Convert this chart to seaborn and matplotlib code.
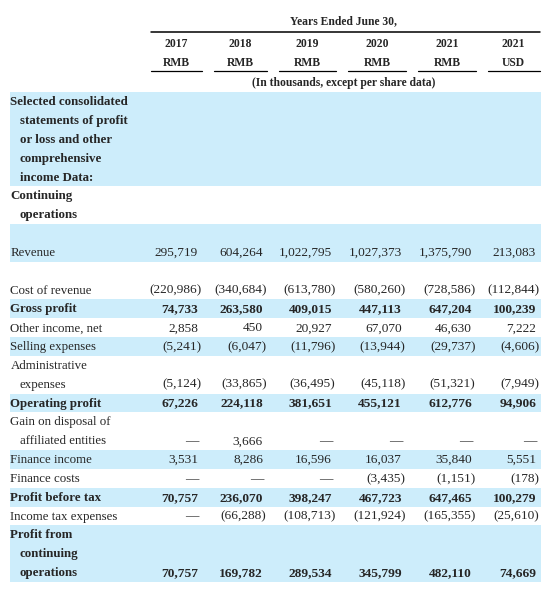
import numpy as np
import pandas as pd
import matplotlib
matplotlib.use('Agg')
import matplotlib.pyplot as plt
import seaborn as sns

# Table data
years = ['2017', '2018', '2019', '2020', '2021', '2021']
currencies = ['RMB', 'RMB', 'RMB', 'RMB', 'RMB', 'USD']

revenue = [295719, 604264, 1022795, 1027373, 1375790, 213083]
cost_of_revenue = [-220986, -340684, -613780, -580260, -728586, -112844]
gross_profit = [74733, 263580, 409015, 447113, 647204, 100239]
other_income = [2858, 450, 20927, 67070, 46630, 7222]
selling_exp = [-5241, -6047, -11796, -13944, -29737, -4606]
admin_exp = [-5124, -33865, -36495, -45118, -51321, -7949]
operating_profit = [67226, 224118, 381651, 455121, 612776, 94906]
gain_disposal = [None, 3666, None, None, None, None]
finance_income = [3531, 8286, 16596, 16037, 35840, 5551]
finance_costs = [None, None, None, -3435, -1151, -178]
profit_before_tax = [70757, 236070, 398247, 467723, 647465, 100279]
income_tax = [None, -66288, -108713, -121924, -165355, -25610]
profit_cont_ops = [70757, 169782, 289534, 345799, 482110, 74669]

# label lines, values, bold, shaded
rows = [
    (['Selected consolidated', 'statements of profit', 'or loss and other',
      'comprehensive', 'income Data:'], None, True, True),
    (['Continuing', 'operations'], None, True, False),
    (['', 'Revenue'], revenue, False, True),
    ([''], None, False, False),
    (['Cost of revenue'], cost_of_revenue, False, False),
    (['Gross profit'], gross_profit, True, True),
    (['Other income, net'], other_income, False, False),
    (['Selling expenses'], selling_exp, False, True),
    (['Administrative', 'expenses'], admin_exp, False, False),
    (['Operating profit'], operating_profit, True, True),
    (['Gain on disposal of', 'affiliated entities'], gain_disposal, False, False),
    (['Finance income'], finance_income, False, True),
    (['Finance costs'], finance_costs, False, False),
    (['Profit before tax'], profit_before_tax, True, True),
    (['Income tax expenses'], income_tax, False, False),
    (['Profit from', 'continuing', 'operations'], profit_cont_ops, True, True),
]


def fmt(v):
    if v is None:
        return '\u2014'
    if v < 0:
        return '({:,})'.format(-v)
    return '{:,}'.format(v)


sns.set_theme(style='white')
plt.rcParams['font.family'] = ['Liberation Serif', 'DejaVu Serif']

fig = plt.figure(figsize=(5.45, 5.89), dpi=100)
ax = fig.add_axes([0, 0, 1, 1])
ax.set_xlim(0, 545)
ax.set_ylim(589, 0)
ax.axis('off')

shade = '#cdedfb'
fs = 9.3
nfs = 9.6
hfs = 8.4
col_right = [198, 263, 332, 402, 472, 536]
col_left_ul = [150.5, 214, 279, 348, 418, 488]
col_right_ul = [201.5, 267, 336, 406, 476, 539.5]

# header
ax.text(344, 24.5, 'Years Ended June 30,', ha='center', va='baseline', fontsize=hfs, fontweight='bold')
ax.plot([150.5, 539.5], [32, 32], color='black', lw=1.1)
for i in range(6):
    cx = (col_left_ul[i] + col_right_ul[i]) / 2
    ax.text(cx, 47, years[i], ha='center', va='baseline', fontsize=hfs, fontweight='bold')
    ax.text(cx, 66, currencies[i], ha='center', va='baseline', fontsize=hfs, fontweight='bold')
    ax.plot([col_left_ul[i], col_right_ul[i]], [70.5, 70.5], color='black', lw=0.9)
ax.text(343.5, 86, '(In thousands, except per share data)', ha='center', va='baseline',
        fontsize=hfs, fontweight='bold')

# body
top = 92.3
L = 18.83
off = 3.6  # baseline below line centre
y = top
for lines, vals, bold, shaded in rows:
    h = len(lines) * L
    if shaded:
        ax.fill_between([9.5, 540.5], y, y + h, color=shade, lw=0)
    w = 'bold' if bold else 'normal'
    first = True
    for j, t in enumerate(lines):
        if not t:
            continue
        ty = y + (j + 0.5) * L + off
        ax.text(10.5 if first else 20, ty, t, ha='left', va='baseline', fontsize=fs, fontweight=w)
        first = False
    if vals is not None:
        ty = y + (len(lines) - 0.5) * L + off
        for i, v in enumerate(vals):
            s = fmt(v)
            x = col_right[i] + (3.5 if (v is not None and v < 0) else 0)
            ax.text(x, ty, s, ha='right', va='baseline', fontsize=nfs, fontweight=w)
    y += h

fig.savefig('out.png', dpi=100)
